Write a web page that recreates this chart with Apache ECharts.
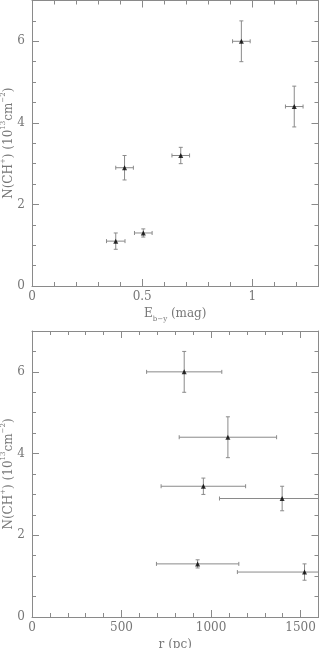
<!DOCTYPE html>
<html><head><meta charset="utf-8">
<script src="https://cdn.jsdelivr.net/npm/echarts@6/dist/echarts.min.js"></script>
<style>html,body{margin:0;padding:0;background:#fff}#c{width:319px;height:648px}</style>
</head><body><div id="c"></div>
<script>
// Column density N(CH+) in 1e13 cm^-2 and its error
const nCH = [1.1, 2.9, 1.3, 3.2, 6.0, 4.4];
const nErr = [0.2, 0.3, 0.1, 0.2, 0.5, 0.5];
// Colour excess E(b-y) in mag and its error
const eby = [0.38, 0.42, 0.505, 0.675, 0.95, 1.19];
const ebyErr = [0.042, 0.04, 0.04, 0.04, 0.04, 0.04];
// Distance r in pc and its error
const rPc = [1522, 1397, 925, 957, 850, 1094];
const rErr = [375, 350, 230, 236, 210, 272];

const FONT = 'DejaVu Serif';
const LINE = '#8a8a8a';
const TXT = '#777';

const srcTop = {x: eby, xe: ebyErr};
const srcBot = {x: rPc, xe: rErr};

function errSeries(gi, src) {
  const data = src.x.map((v, i) => [v, nCH[i], src.xe[i], nErr[i]]);
  return {
    type: 'custom', xAxisIndex: gi * 4, yAxisIndex: gi * 4, clip: true, z: 3,
    data: data,
    renderItem: function (params, api) {
      const x = api.value(0), y = api.value(1), dx = api.value(2), dy = api.value(3);
      const c = api.coord([x, y]);
      const l = api.coord([x - dx, y]), r = api.coord([x + dx, y]);
      const t = api.coord([x, y + dy]), b = api.coord([x, y - dy]);
      const cap = 2;
      const st = {stroke: LINE, lineWidth: 1};
      const shapes = [
        [l[0], c[1], r[0], c[1]],
        [l[0], c[1] - cap, l[0], c[1] + cap],
        [r[0], c[1] - cap, r[0], c[1] + cap],
        [c[0], t[1], c[0], b[1]],
        [c[0] - cap, t[1], c[0] + cap, t[1]],
        [c[0] - cap, b[1], c[0] + cap, b[1]]
      ];
      return {type: 'group', children: shapes.map(s => ({
        type: 'line', shape: {x1: s[0], y1: s[1], x2: s[2], y2: s[3]}, style: st
      }))};
    }
  };
}
function ptSeries(gi, src) {
  return {
    type: 'scatter', xAxisIndex: gi * 4, yAxisIndex: gi * 4, z: 5,
    symbol: 'triangle', symbolSize: 5, itemStyle: {color: '#000'},
    data: src.x.map((v, i) => [v, nCH[i]])
  };
}

function xAxes(gi, max, major, minor, name, fmt) {
  const base = {gridIndex: gi, type: 'value', min: 0, max: max, splitLine: {show: false}};
  const line = {show: true, onZero: false, lineStyle: {color: LINE}};
  const noLine = {show: false, onZero: false};
  return [
    Object.assign({}, base, {position: 'bottom', interval: major,
      name: name, nameLocation: 'middle', nameGap: 22, nameMoveOverlap: false,
      nameTextStyle: {fontFamily: FONT, fontSize: 12, color: TXT, rich: {
        s: {fontFamily: FONT, fontSize: 7, color: TXT, verticalAlign: 'bottom', padding: [0,0,-3,0]}}},
      axisLine: line,
      axisTick: {show: true, inside: true, length: 7, lineStyle: {color: LINE}},
      axisLabel: {show: true, margin: 5, fontFamily: FONT, fontSize: 12, color: TXT, formatter: fmt}}),
    Object.assign({}, base, {position: 'bottom', interval: minor,
      axisLine: noLine, axisLabel: {show: false},
      axisTick: {show: true, inside: true, length: 4, lineStyle: {color: LINE}}}),
    Object.assign({}, base, {position: 'top', interval: major,
      axisLine: line, axisLabel: {show: false},
      axisTick: {show: true, inside: true, length: 7, lineStyle: {color: LINE}}}),
    Object.assign({}, base, {position: 'top', interval: minor,
      axisLine: noLine, axisLabel: {show: false},
      axisTick: {show: true, inside: true, length: 4, lineStyle: {color: LINE}}})
  ];
}
function yAxes(gi) {
  const base = {gridIndex: gi, type: 'value', min: 0, max: 7, splitLine: {show: false}};
  const line = {show: true, onZero: false, lineStyle: {color: LINE}};
  const noLine = {show: false, onZero: false};
  return [
    Object.assign({}, base, {position: 'left', interval: 2,
      name: 'N(CH{p|+}) (10{p|13}cm{p|−2})', nameLocation: 'middle', nameGap: 17, nameRotate: 90,
      nameMoveOverlap: false,
      nameTextStyle: {fontFamily: FONT, fontSize: 12, color: TXT, rich: {
        p: {fontFamily: FONT, fontSize: 7, color: TXT, verticalAlign: 'top', padding: [-3,0,0,0]}}},
      axisLine: line,
      axisTick: {show: true, inside: true, length: 7, lineStyle: {color: LINE}},
      axisLabel: {show: true, margin: 7, fontFamily: FONT, fontSize: 12, color: TXT,
        formatter: v => (v % 2 === 0 ? String(v) : '')}}),
    Object.assign({}, base, {position: 'left', interval: 0.5,
      axisLine: noLine, axisLabel: {show: false},
      axisTick: {show: true, inside: true, length: 4, lineStyle: {color: LINE}}}),
    Object.assign({}, base, {position: 'right', interval: 2,
      axisLine: line, axisLabel: {show: false},
      axisTick: {show: true, inside: true, length: 7, lineStyle: {color: LINE}}}),
    Object.assign({}, base, {position: 'right', interval: 0.5,
      axisLine: noLine, axisLabel: {show: false},
      axisTick: {show: true, inside: true, length: 4, lineStyle: {color: LINE}}})
  ];
}

const fmtE = v => { const r = Math.round(v * 10) / 10; return (r === 0 ? '0' : r === 0.5 ? '0.5' : r === 1 ? '1' : ''); };
const fmtR = v => (v % 500 === 0 ? String(v) : '');

const chart = echarts.init(document.getElementById('c'), null, {renderer: 'canvas'});
chart.setOption({
  animation: false,
  backgroundColor: '#fff',
  grid: [
    {left: 32, right: 0.5, top: 0.5, height: 285.5, containLabel: false, outerBoundsMode: 'none'},
    {left: 32, right: 0.5, top: 331, height: 286, containLabel: false, outerBoundsMode: 'none'}
  ],
  xAxis: [].concat(
    xAxes(0, 1.3, 0.5, 0.1, 'E{s|b−y} (mag)', fmtE),
    xAxes(1, 1600, 500, 100, 'r (pc)', fmtR)
  ),
  yAxis: [].concat(yAxes(0), yAxes(1)),
  series: [errSeries(0, srcTop), ptSeries(0, srcTop), errSeries(1, srcBot), ptSeries(1, srcBot)]
});
</script></body></html>
